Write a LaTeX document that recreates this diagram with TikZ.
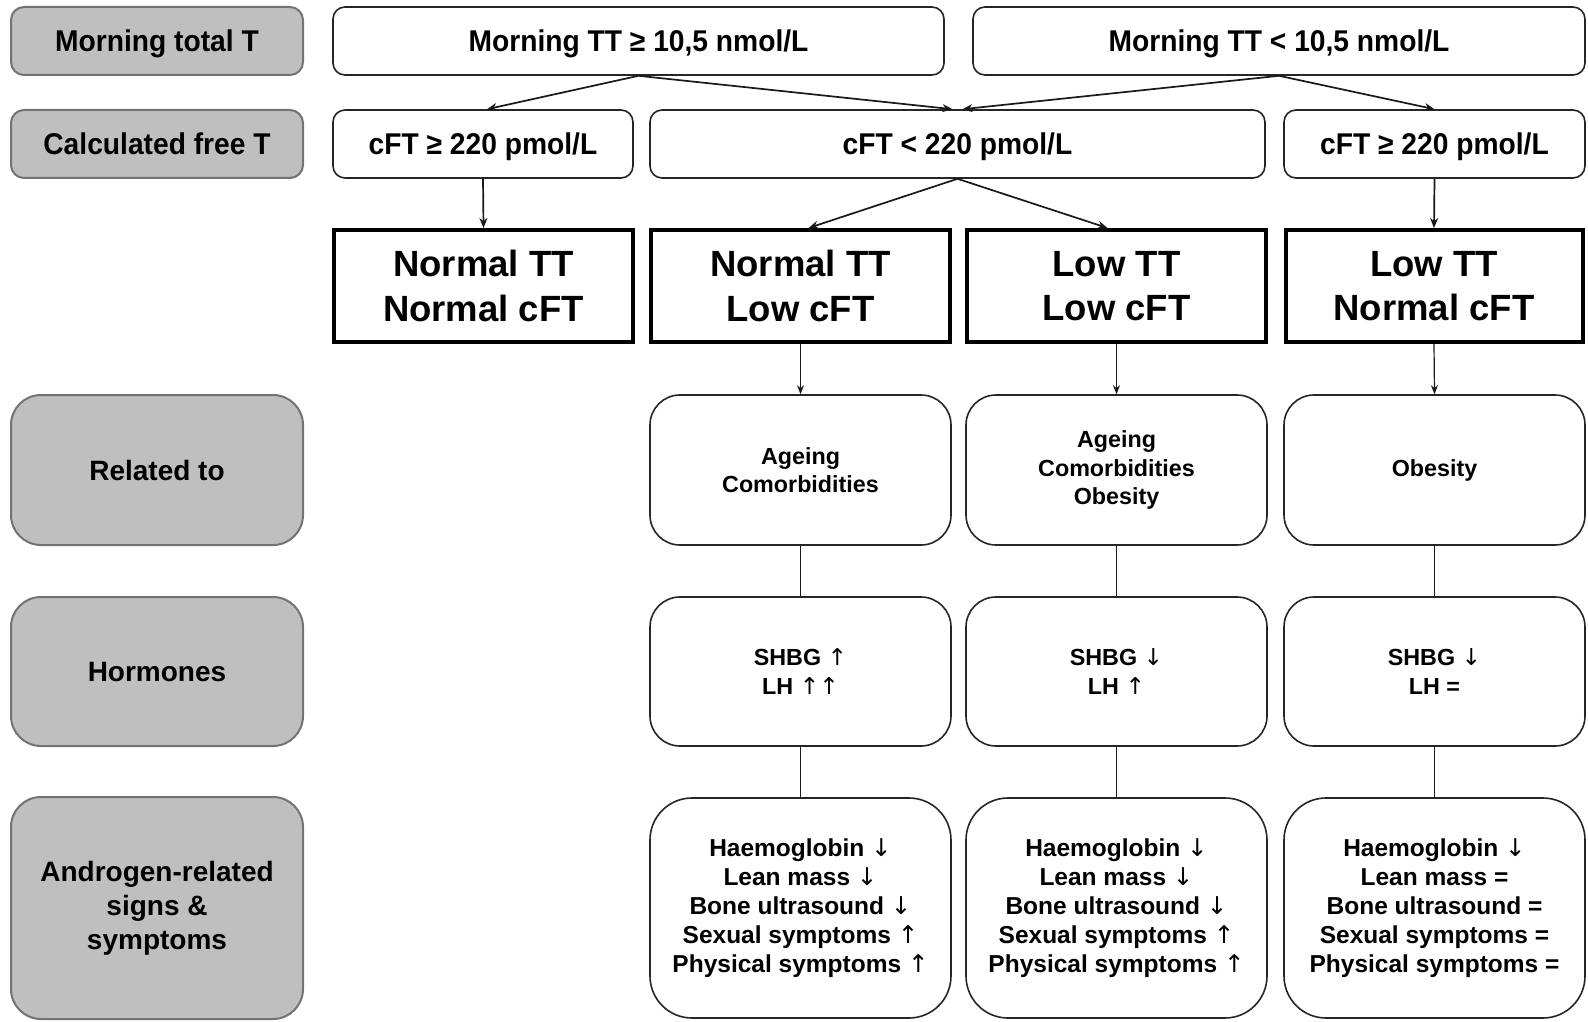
\documentclass[tikz,border=0pt]{standalone}
\usepackage{fontspec}
\setmainfont{Liberation Sans}
\newfontfamily\narrowsans{Liberation Sans}[FakeStretch=0.94]
\newfontfamily\arrowglyphs{DejaVu Sans}
\newcommand\arrUp{{\arrowglyphs\mdseries ↑}}
\newcommand\arrDn{{\arrowglyphs\mdseries ↓}}
\usetikzlibrary{arrows.meta,calc}
\begin{document}
\begin{tikzpicture}[x=1pt,y=-1pt,
  every node/.style={inner sep=0pt, align=center, text=black},
  lab/.style={draw=black!55, fill=black!25, line width=2pt},
  labs/.style={lab, rounded corners=13pt, minimum width=292pt, minimum height=68pt, text depth=0pt, font=\narrowsans\bfseries\fontsize{30}{36}\selectfont},
  labl/.style={lab, rounded corners=30pt, minimum width=292pt, font=\bfseries\fontsize{28}{34}\selectfont},
  topbox/.style={draw=black!85, line width=1.6pt, rounded corners=12pt, minimum height=68pt, text depth=0pt, font=\narrowsans\bfseries\fontsize{30}{36}\selectfont},
  resbox/.style={draw=black, line width=4pt, minimum width=299pt, minimum height=112pt, font=\bfseries\fontsize{36.5}{44.5}\selectfont},
  infobox/.style={draw=black!85, line width=1.6pt, rounded corners=30pt, minimum width=301pt, font=\bfseries\fontsize{23.3}{28.4}\selectfont},
  symbox/.style={infobox, rounded corners=42pt, font=\bfseries\fontsize{24.5}{29}\selectfont},
  arr/.style={-{Stealth[length=10pt,width=8pt]}, line width=1.7pt, draw=black!90},
  arrthin/.style={-{Stealth[length=9pt,width=7pt]}, line width=1.2pt, draw=black!90},
  link/.style={line width=1.2pt, draw=black!90}
]
\fill[white] (0,0) rectangle (1588,1022);
\useasboundingbox (0,0) rectangle (1588,1022);

% left labels
\node[labs] (g1) at (157,41) {Morning total T};
\node[labs] (g2) at (157,144) {Calculated free T};
\node[labl, minimum height=150pt] (g3) at (157,470) {Related to};
\node[labl, minimum height=149pt] (g4) at (157,671.5) {Hormones};
\node[labl, minimum height=222pt] (g5) at (157,908) {Androgen-related\\signs \&\\symptoms};

% row 1
\node[topbox, minimum width=611pt] (t1) at (638.5,41) {Morning TT ≥ 10,5 nmol/L};
\node[topbox, minimum width=612pt] (t2) at (1279,41) {Morning TT < 10,5 nmol/L};

% row 2
\node[topbox, minimum width=300pt] (c1) at (483,144) {cFT ≥ 220 pmol/L};
\node[topbox, minimum width=615pt] (c2) at (957.5,144) {cFT < 220 pmol/L};
\node[topbox, minimum width=301pt] (c3) at (1434.5,144) {cFT ≥ 220 pmol/L};

% row 3
\node[resbox] (r1) at (483.5,286) {Normal TT\\Normal cFT};
\node[resbox] (r2) at (800.5,286) {Normal TT\\Low cFT};
\node[resbox] (r3) at (1116.5,286) {Low TT\\Low cFT};
\node[resbox, minimum width=297pt] (r4) at (1434,286) {Low TT\\Normal cFT};

% row 4
\node[infobox, minimum height=150pt] (s1) at (800.5,470) {Ageing\\Comorbidities};
\node[infobox, minimum height=150pt] (s2) at (1116.5,470) {Ageing\\Comorbidities\\Obesity};
\node[infobox, minimum height=150pt] (s3) at (1434.5,470) {Obesity};

% row 5
\node[infobox, minimum height=149pt] (h1) at (800.5,671.5) {SHBG \arrUp\\LH \arrUp\arrUp};
\node[infobox, minimum height=149pt] (h2) at (1116.5,671.5) {SHBG \arrDn\\LH \arrUp};
\node[infobox, minimum height=149pt] (h3) at (1434.5,671.5) {SHBG \arrDn\\LH =};

% row 6
\node[symbox, minimum height=220pt] (a1) at (800.5,908) {Haemoglobin \arrDn\\Lean mass \arrDn\\Bone ultrasound \arrDn\\Sexual symptoms \arrUp\\Physical symptoms \arrUp};
\node[symbox, minimum height=220pt] (a2) at (1116.5,908) {Haemoglobin \arrDn\\Lean mass \arrDn\\Bone ultrasound \arrDn\\Sexual symptoms \arrUp\\Physical symptoms \arrUp};
\node[symbox, minimum height=220pt] (a3) at (1434.5,908) {Haemoglobin \arrDn\\Lean mass =\\Bone ultrasound =\\Sexual symptoms =\\Physical symptoms =};

% connectors
\draw[arr] (t1.south) -- ($(c1.north)+(4,0)$);
\draw[arr] (t1.south) -- ($(c2.north)+(-5,0)$);
\draw[arr] (t2.south) -- ($(c2.north)+(5,0)$);
\draw[arr] (t2.south) -- (c3.north);
\draw[arr] (c1.south) -- (r1.north);
\draw[arr] (c2.south) -- ($(r2.north)+(8,0)$);
\draw[arr] (c2.south) -- ($(r3.north)+(-9,0)$);
\draw[arr] (c3.south) -- (r4.north);

\draw[arrthin] (r2.south) -- (s1.north);
\draw[arrthin] (r3.south) -- (s2.north);
\draw[arrthin] (r4.south) -- (s3.north);

\draw[link] (s1.south) -- (h1.north);
\draw[link] (s2.south) -- (h2.north);
\draw[link] (s3.south) -- (h3.north);
\draw[link] (h1.south) -- (a1.north);
\draw[link] (h2.south) -- (a2.north);
\draw[link] (h3.south) -- (a3.north);
\end{tikzpicture}
\end{document}
